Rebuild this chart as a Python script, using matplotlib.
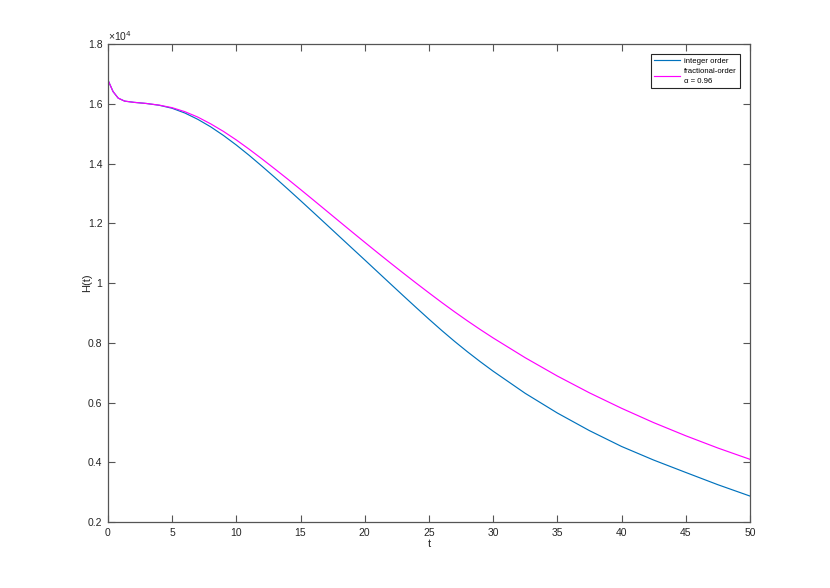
import matplotlib
matplotlib.use("Agg")
import matplotlib.pyplot as plt
from matplotlib.ticker import FuncFormatter, MultipleLocator

plt.rcParams['font.family'] = ['Liberation Sans', 'DejaVu Sans']

# time points
t = [0, 0.4, 0.8, 1.3, 2, 3, 4, 5, 6, 7, 8, 9, 10, 11, 12, 13, 14, 15,
     16, 17, 18, 19, 20, 21, 22, 23, 24, 25, 26, 27, 28, 29, 30,
     32.5, 35, 37.5, 40, 42.5, 45, 47.5, 50]

# integer order H(t)
h_integer = [16800, 16410, 16190, 16090, 16050, 16010, 15950, 15850, 15690,
             15480, 15230, 14940, 14620, 14275, 13910, 13535, 13150, 12760,
             12365, 11968, 11570, 11172, 10775, 10375, 9975, 9577, 9182, 8792,
             8412, 8047, 7699, 7367, 7050,
             6308, 5650, 5060, 4530, 4075, 3660, 3250, 2870]

# fractional order H(t), alpha = 0.96
h_fractional = [16800, 16410, 16190, 16090, 16050, 16010, 15955, 15870, 15735,
                15555, 15330, 15075, 14790, 14480, 14155, 13820, 13480, 13132,
                12780, 12425, 12070, 11716, 11365, 11017, 10673, 10334, 10000, 9672,
                9349, 9036, 8734, 8443, 8163,
                7500, 6888, 6325, 5808, 5328, 4888, 4478, 4100]

fig = plt.figure(figsize=(8.3, 5.88), dpi=100)
ax = fig.add_axes([0.13, 0.1122, 0.7735, 0.8129])

ax.plot(t, h_integer, color='#0072BD', lw=0.85, label='integer order')
ax.plot(t, h_fractional, color='#FF00FF', lw=0.85, label='fractional-order\n\u03b1 = 0.96')

ax.set_xlim(0, 50)
ax.set_ylim(2000, 18000)
ax.xaxis.set_major_locator(MultipleLocator(5))
ax.yaxis.set_major_locator(MultipleLocator(2000))
ax.yaxis.set_major_formatter(FuncFormatter(lambda v, p: '%g' % round(v / 1e4, 2)))

axcol = '#262626'
for s in ax.spines.values():
    s.set_color('#555555')
    s.set_linewidth(0.9)
ax.tick_params(direction='in', top=True, right=True, length=5, width=0.8,
               color='#555555', labelsize=7.5, labelcolor=axcol, pad=4)

ax.text(0.0, 1.003, '\u00d710$^{4}$', transform=ax.transAxes, ha='left', va='bottom',
        fontsize=7.5, color=axcol)

ax.set_xlabel('t', fontsize=8, color=axcol, labelpad=1)
ax.set_ylabel('H(t)', fontsize=8, color=axcol, labelpad=-3)

leg = ax.legend(loc='upper right', fontsize=5.6, fancybox=False, framealpha=1,
                edgecolor='#262626', borderaxespad=1.25, handlelength=3.3,
                handletextpad=0.5, borderpad=0.45, labelspacing=0.45)
leg.get_frame().set_linewidth(0.8)
for txt in leg.get_texts():
    txt.set_linespacing(1.5)

fig.savefig('out.png', dpi=100)
